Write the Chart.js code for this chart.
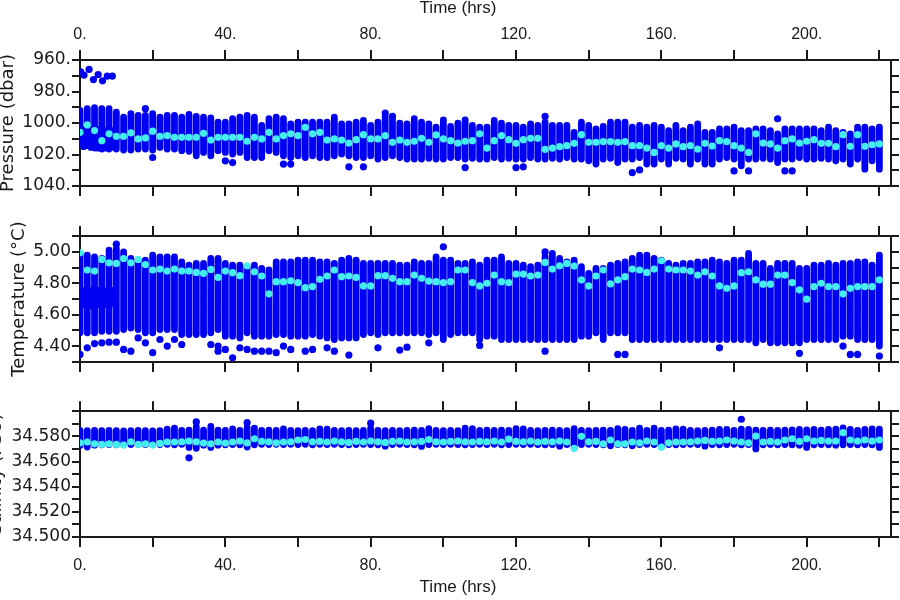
<!DOCTYPE html>
<html>
<head>
<meta charset="utf-8">
<script src="https://cdn.jsdelivr.net/npm/chart.js@4.4.1/dist/chart.umd.min.js"></script>
<style>
  html, body { margin: 0; padding: 0; background: #fff; }
  #wrap { position: relative; width: 900px; height: 600px; overflow: hidden; }
  .panel { position: absolute; left: 0; width: 900px; height: 200px; }
</style>
</head>
<body>
<div id="wrap">
  <div class="panel" style="top:0"><canvas id="pres" width="900" height="200"></canvas></div>
  <div class="panel" style="top:200px"><canvas id="temp" width="900" height="200"></canvas></div>
  <div class="panel" style="top:400px"><canvas id="sal" width="900" height="200"></canvas></div>
</div>
<script>
// DATA — one profile column every 2 hours
const hours = [0,2,4,6,8,10,12,14,16,18,20,22,24,26,28,30,32,34,36,38,40,42,44,46,48,50,52,54,56,58,
  60,62,64,66,68,70,72,74,76,78,80,82,84,86,88,90,92,94,96,98,100,102,104,106,108,110,112,114,116,118,
  120,122,124,126,128,130,132,134,136,138,140,142,144,146,148,150,152,154,156,158,160,162,164,166,168,170,172,174,176,178,
  180,182,184,186,188,190,192,194,196,198,200,202,204,206,208,210,212,214,216,218,220];

// Pressure (dbar): shallowest / deepest sample of each column, and the column mean
const presTop = [992.0,990.9,990.3,990.9,990.9,993.1,996.3,994.1,995.2,995.2,
  994.1,996.3,995.2,995.2,996.3,994.6,995.8,996.3,996.7,999.5,
  999.5,997.3,996.3,995.2,996.3,1001.6,997.3,996.3,997.3,1000.5,
  999.5,999.5,999.5,999.5,999.5,996.3,1000.5,1000.5,999.5,998.4,
  1001.6,999.5,995.8,998.0,1000.1,1000.5,997.3,999.5,1000.5,1002.7,
  998.0,1002.2,1000.1,998.0,1001.6,1002.7,1002.7,998.4,1000.1,1001.6,
  1001.6,1002.7,1000.5,1001.6,999.5,1001.6,1001.6,1001.6,1005.9,999.5,
  1001.6,1003.7,1002.2,999.5,999.5,999.5,1002.7,1001.6,1002.7,1001.6,
  1002.7,1004.8,1001.6,1004.8,1002.7,1000.5,1005.9,1005.9,1003.7,1003.7,
  1002.7,1004.8,1004.8,1003.7,1003.7,1004.8,1006.9,1003.7,1003.7,1003.7,
  1003.7,1003.7,1004.8,1002.7,1004.8,1005.9,1006.9,1002.7,1002.7,1003.7,
  1002.7];
const presBot = [1013.3,1014.4,1015.9,1016.5,1016.5,1016.5,1017.2,1017.2,1016.5,1016.5,
  1017.2,1015.5,1016.5,1016.5,1017.6,1018.0,1020.8,1018.7,1020.8,1017.6,
  1018.7,1019.7,1018.7,1021.9,1021.9,1021.9,1017.6,1018.7,1020.8,1021.9,
  1020.8,1021.9,1020.8,1021.9,1021.9,1020.8,1019.7,1020.8,1021.9,1021.9,
  1020.8,1022.9,1021.9,1020.8,1021.9,1022.9,1022.9,1022.9,1022.4,1022.9,
  1022.9,1021.9,1021.9,1022.9,1022.4,1022.9,1022.9,1021.9,1022.9,1022.4,
  1022.9,1022.9,1021.9,1022.9,1022.9,1022.4,1022.9,1021.9,1022.9,1022.9,
  1024.0,1026.1,1022.9,1022.4,1025.1,1022.9,1022.9,1021.9,1026.1,1026.1,
  1022.9,1026.1,1022.4,1022.9,1026.1,1022.9,1026.1,1026.1,1022.9,1021.9,
  1022.9,1027.2,1022.9,1022.9,1022.4,1022.9,1025.1,1022.9,1022.9,1021.9,
  1022.9,1022.9,1022.4,1022.9,1024.0,1022.9,1026.1,1022.9,1029.3,1024.0,
  1029.3];
const presMean = [1005.9,1001.2,1004.8,1011.2,1006.9,1008.4,1008.4,1006.3,1010.1,1009.5,
  1005.2,1008.4,1008.0,1009.1,1009.1,1009.1,1009.1,1006.5,1010.8,1009.1,
  1009.1,1009.1,1009.1,1011.6,1009.1,1010.1,1005.9,1010.1,1008.0,1006.9,
  1008.0,1002.7,1006.9,1005.9,1010.8,1010.1,1010.8,1012.7,1010.6,1007.4,
  1010.1,1010.1,1008.0,1012.3,1010.8,1012.3,1011.6,1009.7,1012.3,1007.6,
  1010.1,1011.2,1012.7,1011.6,1011.2,1006.9,1015.9,1011.2,1008.0,1010.6,
  1012.9,1010.6,1009.7,1009.7,1016.7,1015.9,1015.0,1014.4,1012.9,1007.4,
  1012.3,1012.3,1011.8,1011.8,1012.3,1011.8,1014.4,1014.4,1015.9,1018.7,
  1014.4,1015.9,1013.3,1015.0,1014.4,1016.5,1012.9,1014.6,1011.2,1011.8,
  1014.4,1015.9,1018.7,1006.9,1012.7,1013.3,1015.9,1011.2,1010.1,1012.7,
  1011.6,1010.6,1012.9,1012.9,1015.0,1007.4,1014.8,1007.4,1014.8,1013.8,
  1013.3];
// dense sampling between the first columns
const presFillHours = [1,3,5,7,9];
const presFillTop = [1004.0,1004.5,1004.0,1005.0,1005.0];
const presFillBot = [1015.0,1015.5,1016.0,1016.0,1015.5];
// isolated samples (incl. the near-surface ones at the start)
const presOutHours = [0.2,1.1,2.5,3.7,5.0,6.2,7.5,8.9,18,20,40,42,56,58,74,78,84,86,106,120,122,128,152,154,180,184,192,194,196];
const presOutVals = [967.5,969.6,966.0,972.4,969.2,973.2,970.2,970.2,990.9,1021.9,1024.0,1025.1,1026.1,1026.1,1027.8,1027.8,993.7,995.8,1028.3,1028.3,1027.8,995.8,1031.5,1029.8,1030.4,1030.4,997.3,1030.4,1030.4];

// Temperature (deg C)
const tempTop = [4.989,4.978,4.968,4.957,5.010,5.020,4.999,4.957,4.947,4.947,
  4.978,4.968,4.968,4.968,4.936,4.915,4.926,4.926,4.957,4.957,
  4.926,4.915,4.915,4.905,4.915,4.894,4.884,4.936,4.936,4.936,
  4.947,4.947,4.947,4.936,4.936,4.926,4.947,4.957,4.947,4.926,
  4.926,4.926,4.926,4.926,4.915,4.915,4.936,4.926,4.926,4.968,
  4.947,4.947,4.926,4.926,4.936,4.915,4.947,4.947,4.968,4.926,
  4.926,4.915,4.905,4.915,4.968,4.989,4.957,4.936,4.947,4.905,
  4.863,4.894,4.894,4.915,4.926,4.936,4.957,4.978,4.978,4.957,
  4.947,4.926,4.915,4.926,4.926,4.936,4.936,4.947,4.936,4.926,
  4.947,4.947,4.989,4.926,4.926,4.894,4.926,4.926,4.926,4.894,
  4.894,4.915,4.915,4.926,4.915,4.926,4.926,4.936,4.936,4.915,
  4.978];
const tempBot = [4.485,4.485,4.485,4.495,4.495,4.495,4.506,4.516,4.506,4.485,
  4.485,4.506,4.506,4.506,4.474,4.474,4.474,4.474,4.485,4.506,
  4.464,4.464,4.453,4.485,4.464,4.464,4.464,4.474,4.474,4.464,
  4.464,4.464,4.474,4.464,4.453,4.443,4.453,4.453,4.453,4.474,
  4.485,4.474,4.485,4.485,4.485,4.485,4.485,4.485,4.474,4.485,
  4.443,4.474,4.485,4.485,4.485,4.443,4.464,4.464,4.443,4.443,
  4.443,4.443,4.443,4.443,4.443,4.443,4.443,4.443,4.443,4.464,
  4.464,4.485,4.443,4.485,4.485,4.485,4.443,4.443,4.443,4.443,
  4.443,4.443,4.443,4.443,4.443,4.443,4.443,4.443,4.443,4.443,
  4.443,4.443,4.443,4.422,4.443,4.422,4.422,4.422,4.422,4.422,
  4.443,4.443,4.443,4.443,4.443,4.464,4.464,4.443,4.443,4.443,
  4.401];
const tempMean = [4.993,4.884,4.877,4.951,4.930,4.926,4.957,4.930,4.951,4.919,
  4.884,4.890,4.877,4.890,4.877,4.877,4.869,4.863,4.888,4.837,
  4.877,4.867,4.848,4.911,4.873,4.846,4.733,4.810,4.810,4.816,
  4.804,4.772,4.779,4.825,4.846,4.884,4.842,4.846,4.837,4.783,
  4.783,4.848,4.848,4.831,4.810,4.810,4.852,4.831,4.814,4.810,
  4.804,4.810,4.884,4.884,4.804,4.783,4.800,4.852,4.810,4.804,
  4.858,4.858,4.846,4.852,4.932,4.890,4.911,4.926,4.909,4.821,
  4.783,4.846,4.884,4.796,4.821,4.842,4.890,4.884,4.869,4.890,
  4.943,4.890,4.884,4.884,4.877,4.852,4.873,4.846,4.783,4.768,
  4.783,4.867,4.873,4.821,4.794,4.794,4.852,4.852,4.804,4.758,
  4.699,4.779,4.800,4.779,4.779,4.733,4.768,4.779,4.779,4.779,
  4.821];
const tempFillHours = [1,3,5,7,9];
const tempFillTop = [4.755,4.750,4.755,4.750,4.755];
const tempFillBot = [4.665,4.660,4.665,4.665,4.670];
const tempOutHours = [0,2,4,6,8,10,10,12,14,16,18,20,22,24,26,28,36,38,38,40,42,44,46,48,50,52,54,56,58,62,64,68,70,74,82,88,90,96,100,110,128,128,148,150,176,198,210,212,214,220];
const tempOutVals = [4.348,4.390,4.417,4.422,4.426,4.426,5.048,4.380,4.369,4.453,4.422,4.359,4.443,4.401,4.443,4.411,4.411,4.401,4.369,4.380,4.327,4.390,4.380,4.369,4.369,4.369,4.359,4.401,4.380,4.369,4.380,4.390,4.369,4.344,4.390,4.376,4.394,4.422,5.031,4.405,4.999,4.369,4.348,4.348,4.390,4.355,4.401,4.348,4.348,4.338];

// Salinity (PSU)
const salTop = [34.5848,34.5845,34.5848,34.5845,34.5848,34.5845,34.5843,34.5845,34.5848,34.5845,
  34.5843,34.5845,34.5858,34.5865,34.5848,34.5850,34.5875,34.5850,34.5880,34.5850,
  34.5848,34.5860,34.5848,34.5870,34.5865,34.5848,34.5850,34.5848,34.5860,34.5848,
  34.5845,34.5848,34.5845,34.5860,34.5858,34.5848,34.5845,34.5848,34.5845,34.5848,
  34.5865,34.5848,34.5845,34.5848,34.5845,34.5848,34.5850,34.5848,34.5862,34.5848,
  34.5845,34.5848,34.5845,34.5865,34.5862,34.5848,34.5850,34.5848,34.5850,34.5848,
  34.5862,34.5860,34.5848,34.5845,34.5848,34.5850,34.5848,34.5845,34.5862,34.5848,
  34.5845,34.5848,34.5850,34.5848,34.5862,34.5855,34.5848,34.5865,34.5848,34.5865,
  34.5848,34.5850,34.5860,34.5858,34.5848,34.5845,34.5848,34.5850,34.5855,34.5855,
  34.5848,34.5858,34.5855,34.5850,34.5848,34.5850,34.5848,34.5850,34.5852,34.5855,
  34.5852,34.5855,34.5850,34.5855,34.5858,34.5868,34.5855,34.5848,34.5855,34.5860,
  34.5858];
const salBot = [34.5728,34.5715,34.5730,34.5733,34.5735,34.5733,34.5737,34.5735,34.5737,34.5735,
  34.5737,34.5735,34.5737,34.5733,34.5737,34.5712,34.5705,34.5730,34.5712,34.5730,
  34.5733,34.5735,34.5733,34.5715,34.5733,34.5737,34.5735,34.5737,34.5735,34.5737,
  34.5735,34.5737,34.5733,34.5737,34.5735,34.5737,34.5735,34.5733,34.5735,34.5737,
  34.5735,34.5733,34.5722,34.5735,34.5737,34.5735,34.5733,34.5720,34.5735,34.5737,
  34.5735,34.5737,34.5735,34.5733,34.5735,34.5737,34.5735,34.5737,34.5733,34.5735,
  34.5737,34.5735,34.5737,34.5735,34.5733,34.5735,34.5722,34.5735,34.5712,34.5735,
  34.5737,34.5735,34.5733,34.5725,34.5735,34.5733,34.5725,34.5735,34.5737,34.5735,
  34.5718,34.5735,34.5733,34.5735,34.5737,34.5735,34.5722,34.5735,34.5733,34.5735,
  34.5737,34.5733,34.5735,34.5700,34.5733,34.5735,34.5733,34.5735,34.5733,34.5730,
  34.5712,34.5733,34.5735,34.5733,34.5730,34.5733,34.5735,34.5733,34.5735,34.5733,
  34.5712];
const salMean = [34.5749,34.5755,34.5741,34.5736,34.5741,34.5736,34.5731,34.5757,34.5736,34.5741,
  34.5731,34.5744,34.5755,34.5755,34.5757,34.5763,34.5757,34.5747,34.5741,34.5755,
  34.5747,34.5755,34.5763,34.5749,34.5781,34.5760,34.5757,34.5749,34.5755,34.5757,
  34.5771,34.5775,34.5757,34.5760,34.5755,34.5763,34.5757,34.5752,34.5760,34.5755,
  34.5763,34.5757,34.5752,34.5760,34.5763,34.5755,34.5757,34.5760,34.5775,34.5757,
  34.5755,34.5760,34.5763,34.5757,34.5755,34.5760,34.5757,34.5763,34.5755,34.5778,
  34.5760,34.5757,34.5763,34.5755,34.5760,34.5757,34.5763,34.5755,34.5705,34.5800,
  34.5757,34.5760,34.5741,34.5771,34.5741,34.5741,34.5755,34.5749,34.5763,34.5755,
  34.5715,34.5749,34.5755,34.5755,34.5757,34.5763,34.5768,34.5760,34.5763,34.5771,
  34.5763,34.5755,34.5749,34.5803,34.5755,34.5760,34.5755,34.5771,34.5781,34.5760,
  34.5781,34.5763,34.5768,34.5763,34.5763,34.5829,34.5771,34.5763,34.5771,34.5763,
  34.5771];
const salOutHours = [30,32,46,80,182];
const salOutVals = [34.5629,34.5915,34.5909,34.5905,34.5936];

// STYLE
const INK = '#1a1a1a';
const BLUE = '#0000f2';
const CYAN = '#44eeee';
const DOT = 3.6;
const T_MAX = 223.2;
const FONT_X = { family: "'Liberation Sans', Arial, sans-serif", size: 16 };
const FONT_Y = { family: "'DejaVu Sans', sans-serif", size: 17 };
const FONT_YT = { family: "'DejaVu Sans', sans-serif", size: 18 };
const TIME_TITLE = 'Time (hrs)';

Chart.defaults.color = INK;

// HELPERS
const columnsOf = (hrs, top, bot) => {
  const pts = [];
  hrs.forEach((h, i) => {
    pts.push({ x: h, y: top[i] }, { x: h, y: bot[i] }, { x: h, y: null });
  });
  return pts;
};
const pointsOf = (hrs, vals) => hrs.map((h, i) => ({ x: h, y: vals[i] }));

// the time title sits a little left of the plot centre in the original
const timeTitle = {
  id: 'timeTitle',
  afterDraw(chart, args, opts) {
    if (!opts.y) return;
    const ctx = chart.ctx;
    ctx.save();
    ctx.font = "17px 'Liberation Sans', Arial, sans-serif";
    ctx.fillStyle = INK;
    ctx.textAlign = 'center';
    ctx.textBaseline = 'middle';
    ctx.fillText(TIME_TITLE, 458, opts.y);
    ctx.restore();
  },
};

const timeAxis = (position, size, labels) => ({
  type: 'linear', position, min: 0, max: T_MAX,
  afterFit: (s) => { s.height = size; },
  border: { display: true, color: INK, width: 2 },
  grid: { drawOnChartArea: false, drawTicks: true, tickLength: 10, color: INK, lineWidth: 2 },
  ticks: {
    display: labels, stepSize: 20, includeBounds: false, autoSkip: false, maxRotation: 0,
    padding: position === 'top' ? 6 : 9, font: FONT_X, color: INK,
    callback: (v) => (v % 40 === 0 ? v + '.' : ''),
  },
});

const valueAxis = (position, size, opts) => ({
  type: 'linear', position, min: opts.min, max: opts.max, reverse: !!opts.reverse,
  afterFit: (s) => { s.width = size; },
  border: { display: true, color: INK, width: 2 },
  grid: { drawOnChartArea: false, drawTicks: true, tickLength: 8, color: INK, lineWidth: 2 },
  ticks: {
    display: position === 'left', stepSize: opts.step, includeBounds: false, autoSkip: false,
    padding: 1, font: FONT_Y, color: INK, callback: opts.label,
  },
  title: position === 'left'
    ? { display: true, text: opts.title, font: FONT_YT, color: INK, padding: { top: opts.titlePad, bottom: 0 } }
    : { display: false },
});

const makePanel = (id, cfg) => {
  const datasets = [
    { data: pointsOf(hours, cfg.mean), backgroundColor: CYAN, pointRadius: DOT, pointBorderWidth: 0, clip: 0 },
    { data: pointsOf(cfg.outHours, cfg.outVals), backgroundColor: BLUE, pointRadius: DOT, pointBorderWidth: 0, clip: 0 },
    {
      data: columnsOf(hours, cfg.top, cfg.bot).concat(cfg.fill ? columnsOf(cfg.fill.hours, cfg.fill.top, cfg.fill.bot) : []),
      showLine: true, spanGaps: false, borderColor: BLUE, borderWidth: DOT * 2 - 0.4,
      borderCapStyle: 'round', borderJoinStyle: 'round', pointRadius: 0, clip: 0,
    },
  ];
  const y = { min: cfg.min, max: cfg.max, step: cfg.step, reverse: cfg.reverse, label: cfg.label, title: cfg.title, titlePad: cfg.titlePad };
  return new Chart(document.getElementById(id), {
    type: 'scatter',
    data: { datasets },
    plugins: [timeTitle],
    options: {
      responsive: false, animation: false, events: [],
      layout: { padding: 0 },
      plugins: { legend: { display: false }, tooltip: { enabled: false }, timeTitle: { y: cfg.timeTitleY } },
      scales: {
        x: timeAxis('bottom', cfg.bottomSize, cfg.bottomLabels),
        xTop: timeAxis('top', cfg.topSize, cfg.topLabels),
        y: valueAxis('left', 80, y),
        yRight: valueAxis('right', 9, y),
      },
    },
  });
};

makePanel('pres', {
  top: presTop, bot: presBot, mean: presMean,
  fill: { hours: presFillHours, top: presFillTop, bot: presFillBot },
  outHours: presOutHours, outVals: presOutVals,
  min: 960, max: 1040, step: 10, reverse: true,
  label: (v) => (v % 20 === 0 ? v + '.' : ''),
  title: 'Pressure (dbar)', titlePad: -2,
  topSize: 60, bottomSize: 14, topLabels: true, bottomLabels: false, timeTitleY: 8,
});

makePanel('temp', {
  top: tempTop, bot: tempBot, mean: tempMean,
  fill: { hours: tempFillHours, top: tempFillTop, bot: tempFillBot },
  outHours: tempOutHours, outVals: tempOutVals,
  min: 4.3, max: 5.1, step: 0.1,
  label: (v) => (Math.round(v * 10) % 2 === 0 ? v.toFixed(2) : ''),
  title: 'Temperature (°C)', titlePad: 9,
  topSize: 36, bottomSize: 38, topLabels: false, bottomLabels: false, timeTitleY: 0,
});

makePanel('sal', {
  top: salTop, bot: salBot, mean: salMean,
  outHours: salOutHours, outVals: salOutVals,
  min: 34.5, max: 34.6, step: 0.01,
  label: (v) => {
    const k = Math.round(v * 100);
    return k % 2 === 0 && k < 3460 ? v.toFixed(3) : '';
  },
  title: 'Salinity (PSU)', titlePad: -14,
  topSize: 11, bottomSize: 63, topLabels: false, bottomLabels: true, timeTitleY: 187,
});
</script>
</body>
</html>
